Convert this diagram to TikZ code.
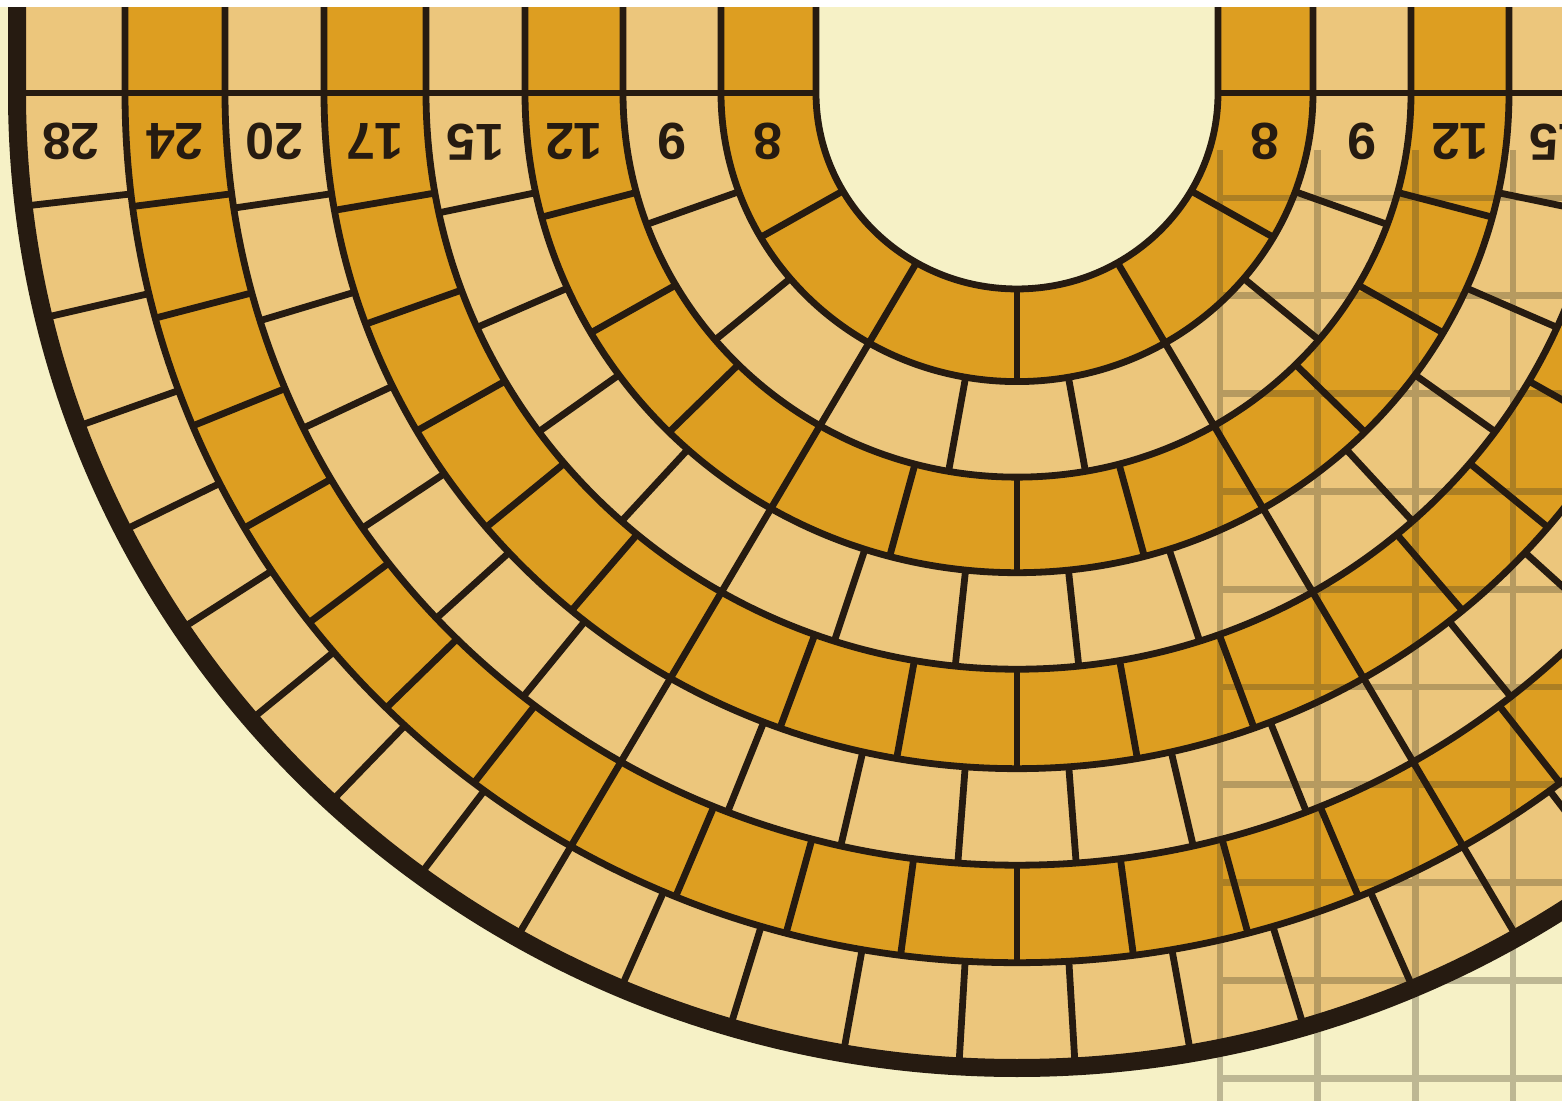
\documentclass[tikz,border=0pt]{standalone}
\usepackage{fontspec}
\usepackage{tikz}
\newfontfamily\numfont{Liberation Sans}

\definecolor{paper}{RGB}{246,241,198}
\definecolor{tiledark}{RGB}{221,158,33}
\definecolor{tilelight}{RGB}{236,198,124}
\definecolor{ink}{RGB}{38,27,17}
\definecolor{gridgrey}{RGB}{70,62,40}

\tikzset{
  ringline/.style={draw=ink, line width=3.4pt},
  rimline/.style={draw=ink, line width=9pt},
  gridline/.style={draw=gridgrey, draw opacity=0.32, line width=3.4pt},
  ringlabel/.style={font=\numfont\bfseries\fontsize{26}{26}\selectfont, text=ink, rotate=180, inner sep=0pt},
}

\begin{document}
\begin{tikzpicture}[x=0.5pt, y=0.5pt]
  \useasboundingbox (0,0) rectangle (1562,1101);
  \fill[paper] (0,0) rectangle (1562,1101);

  \begin{scope}[shift={(1017,1008)}, yscale=0.975]
    % ring fills, half ring plus the straight strip on top
    \foreach \ri/\ro/\col in {201/296/tiledark, 296/394/tilelight, 394/492/tiledark,
        492/591/tilelight, 591/693/tiledark, 693/792/tilelight, 792/892/tiledark, 892/1000/tilelight} {
      \fill[\col] (-\ro,110) -- (-\ro,0) arc[start angle=180, end angle=360, radius=\ro]
        -- (\ro,110) -- (\ri,110) -- (\ri,0) arc[start angle=360, end angle=180, radius=\ri]
        -- (-\ri,110) -- cycle;
    }
  \end{scope}

  % squared sheet showing through on the right
  \draw[gridline]
    foreach \gx in {1220,1317.7,1415.4,1513} {(\gx,0) -- (\gx,951)}
    foreach \gy in {903,805.2,707.4,609.6,511.8,414,316.2,218.4,120.6,22.8} {(1220,\gy) -- (1562,\gy)};

  \begin{scope}[shift={(1017,1008)}, yscale=0.975]
    % joints between the tiles
    \foreach \ri/\ro/\n in {201/296/6, 296/394/9, 394/492/12, 492/591/15,
        591/693/18, 693/792/21, 792/892/24, 892/1000/27} {
      \foreach \k in {0,...,\n}
        \draw[ringline] ({180+\k*180/\n}:\ri) -- ({180+\k*180/\n}:\ro);
    }
    \foreach \r in {201,296,394,492,591,693,792,892}
      \draw[ringline] (-\r,110) -- (-\r,0) arc[start angle=180, end angle=360, radius=\r] -- (\r,110);
    \draw[rimline] (-1000,110) -- (-1000,0) arc[start angle=180, end angle=360, radius=1000] -- (1000,110);

    % numbers, upside down
    \foreach \ri/\ro/\t in {201/296/8, 296/394/9, 394/492/12, 492/591/15,
        591/693/17, 693/792/20, 792/892/24, 892/1000/28}
      \node[ringlabel] (lab-left-\t) at ({-(\ri+\ro)/2},-50) {\t};
    \foreach \ri/\ro/\t in {201/296/8, 296/394/9, 394/492/12, 492/591/15}
      \node[ringlabel] (lab-right-\t) at ({(\ri+\ro)/2},-50) {\t};
  \end{scope}

  \fill[white] (0,1094) rectangle (1562,1101);
\end{tikzpicture}
\end{document}
